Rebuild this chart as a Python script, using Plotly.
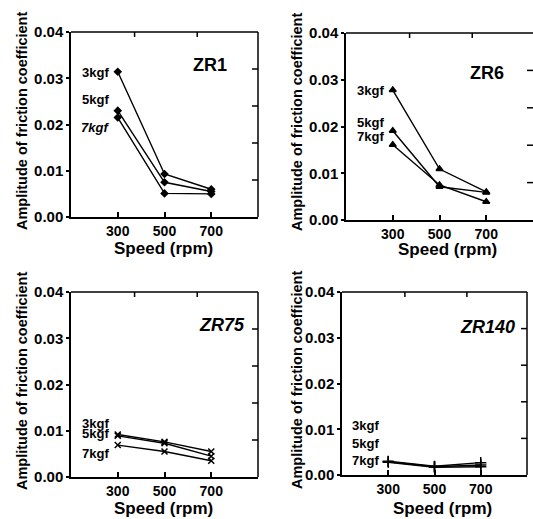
import plotly.graph_objects as go

speed = [300, 500, 700]
loads = ["3kgf", "5kgf", "7kgf"]

zr1_3 = [0.0314, 0.0093, 0.0060]
zr1_5 = [0.0230, 0.0075, 0.0055]
zr1_7 = [0.0215, 0.0051, 0.0050]

zr6_3 = [0.0278, 0.0109, 0.0060]
zr6_5 = [0.0191, 0.0071, 0.0059]
zr6_7 = [0.0161, 0.0075, 0.0039]

zr75_3 = [0.0092, 0.0076, 0.0055]
zr75_5 = [0.0089, 0.0073, 0.0045]
zr75_7 = [0.0069, 0.0055, 0.0035]

zr140_3 = [0.0030, 0.0019, 0.0027]
zr140_5 = [0.0029, 0.0018, 0.0022]
zr140_7 = [0.0028, 0.0017, 0.0018]

panel_names = ["ZR1", "ZR6", "ZR75", "ZR140"]
y_ticks = [0.00, 0.01, 0.02, 0.03, 0.04]
y_tick_text = ["0.00", "0.01", "0.02", "0.03", "0.04"]
x_ticks = [300, 500, 700]
top_ticks = [372, 640]
right_ticks = [0.008, 0.016, 0.024, 0.032]

# label y-positions (data units) for load labels in each panel
label_y = {
    "ZR1": [0.0313, 0.0253, 0.0193],
    "ZR6": [0.0277, 0.0209, 0.0179],
    "ZR75": [0.0116, 0.0093, 0.0051],
    "ZR140": [0.0108, 0.0069, 0.0031],
}

FONT = "Liberation Sans, Arial, sans-serif"
W, H = 533, 519

panels = [
    dict(name="ZR1", series=[zr1_3, zr1_5, zr1_7], symbol="diamond", size=5,
         xdom=[71/W, 258/W], ydom=[(H-217)/H, (H-32)/H],
         title_xy=(210, 65), italic=False, label_italic=[False, False, True],
         ytitle=(22, 121), xtitle=(163, 248), right_line=True),
    dict(name="ZR6", series=[zr6_3, zr6_5, zr6_7], symbol="triangle-up", size=6,
         xdom=[346/W, 1.0], ydom=[(H-220)/H, (H-33)/H],
         title_xy=(487, 73), italic=False, label_italic=[False, False, False],
         ytitle=(297, 122), xtitle=(447, 249), right_line=False),
    dict(name="ZR75", series=[zr75_3, zr75_5, zr75_7], symbol="x-thin-open", size=6,
         xdom=[71/W, 258/W], ydom=[(H-477)/H, (H-292)/H],
         title_xy=(222, 325), italic=True, label_italic=[False, False, False],
         ytitle=(22, 381), xtitle=(163, 508), right_line=True),
    dict(name="ZR140", series=[zr140_3, zr140_5, zr140_7], symbol="cross-thin-open", size=8,
         xdom=[342/W, 527/W], ydom=[(H-475)/H, (H-292)/H],
         title_xy=(487, 327), italic=True, label_italic=[False, False, False],
         ytitle=(297, 380), xtitle=(442, 508), right_line=True),
]

fig = go.Figure()
annotations = []
shapes = []
layout = {}
BLK = dict(color="black", width=1.5)

for i, p in enumerate(panels):
    n = i + 1
    xa = "x" if n == 1 else f"x{n}"
    ya = "y" if n == 1 else f"y{n}"
    for s in p["series"]:
        fig.add_trace(go.Scatter(
            x=speed, y=s, xaxis=xa, yaxis=ya, mode="lines+markers",
            line=dict(color="black", width=1.4),
            marker=dict(symbol=p["symbol"], size=p["size"], color="black",
                        line=dict(color="black", width=1.5)),
            showlegend=False, hoverinfo="skip"))
    xkey = "xaxis" if n == 1 else f"xaxis{n}"
    ykey = "yaxis" if n == 1 else f"yaxis{n}"
    layout[xkey] = dict(
        domain=p["xdom"], anchor=ya, range=[100, 900], automargin=False,
        tickvals=x_ticks, ticktext=[str(v) for v in x_ticks],
        ticks="inside", ticklen=5, tickwidth=1.5, tickcolor="black",
        showline=True, linecolor="black", linewidth=1.5,
        showgrid=False, zeroline=False,
        tickfont=dict(family=FONT, size=14, color="black", weight="bold"),
        ticklabelstandoff=0)
    layout[ykey] = dict(
        domain=p["ydom"], anchor=xa, range=[0, 0.04], automargin=False,
        tickvals=y_ticks, ticktext=y_tick_text,
        ticks="outside", ticklen=3, tickwidth=1.5, tickcolor="black",
        showline=True, linecolor="black", linewidth=1.5,
        showgrid=False, zeroline=False,
        tickfont=dict(family=FONT, size=15, color="black", weight="bold"),
        ticklabelstandoff=0)

    # frame: top line and (where visible) right line
    xd = f"{xa} domain"
    yd = f"{ya} domain"
    shapes.append(dict(type="line", xref=xd, yref=yd, x0=0, x1=1, y0=1, y1=1, line=BLK))
    if p["right_line"]:
        shapes.append(dict(type="line", xref=xd, yref=yd, x0=1, x1=1, y0=0, y1=1, line=BLK))
    # inward tick marks on the top and right frame sides
    w_px = (p["xdom"][1] - p["xdom"][0]) * W
    h_px = (p["ydom"][1] - p["ydom"][0]) * H
    for tv in top_ticks:
        shapes.append(dict(type="line", xref=xa, yref=yd, x0=tv, x1=tv,
                           y0=1 - 5 / h_px, y1=1, line=BLK))
    for tv in right_ticks:
        shapes.append(dict(type="line", xref=xd, yref=ya, x0=1 - 6 / w_px, x1=1,
                           y0=tv, y1=tv, line=BLK))

    # panel title
    tx, ty = p["title_xy"]
    title_text = f"<i>{p['name']}</i>" if p["italic"] else p["name"]
    annotations.append(dict(
        x=tx/W, y=(H-ty)/H, xref="paper", yref="paper",
        text=f"<b>{title_text}</b>", showarrow=False,
        font=dict(family=FONT, size=18, color="black"),
        xanchor="center", yanchor="middle"))
    # load labels
    for k, lab in enumerate(loads):
        t = f"<i>{lab}</i>" if p["label_italic"][k] else lab
        annotations.append(dict(
            x=300, y=label_y[p["name"]][k], xref=xa, yref=ya,
            text=f"<b>{t}</b>", showarrow=False, xanchor="right",
            yanchor="middle", xshift=-7,
            font=dict(family=FONT, size=13, color="black")))
    # axis titles
    yx, yy = p["ytitle"]
    annotations.append(dict(
        x=yx/W, y=(H-yy)/H, xref="paper", yref="paper",
        text="<b>Amplitude of friction coefficient</b>", showarrow=False,
        textangle=-90, xanchor="center", yanchor="middle",
        font=dict(family=FONT, size=14.5, color="black")))
    xx, xy = p["xtitle"]
    annotations.append(dict(
        x=xx/W, y=(H-xy)/H, xref="paper", yref="paper",
        text="<b>Speed (rpm)</b>", showarrow=False,
        xanchor="center", yanchor="middle",
        font=dict(family=FONT, size=17, color="black")))

fig.update_layout(
    width=W, height=H,
    margin=dict(l=0, r=0, t=0, b=0, pad=0, autoexpand=False),
    paper_bgcolor="white", plot_bgcolor="rgba(0,0,0,0)",
    annotations=annotations, shapes=shapes,
    **layout)

fig.write_html("out.html", config={"displayModeBar": False},
               post_script="document.body.style.margin='0';document.body.style.overflow='hidden';")
